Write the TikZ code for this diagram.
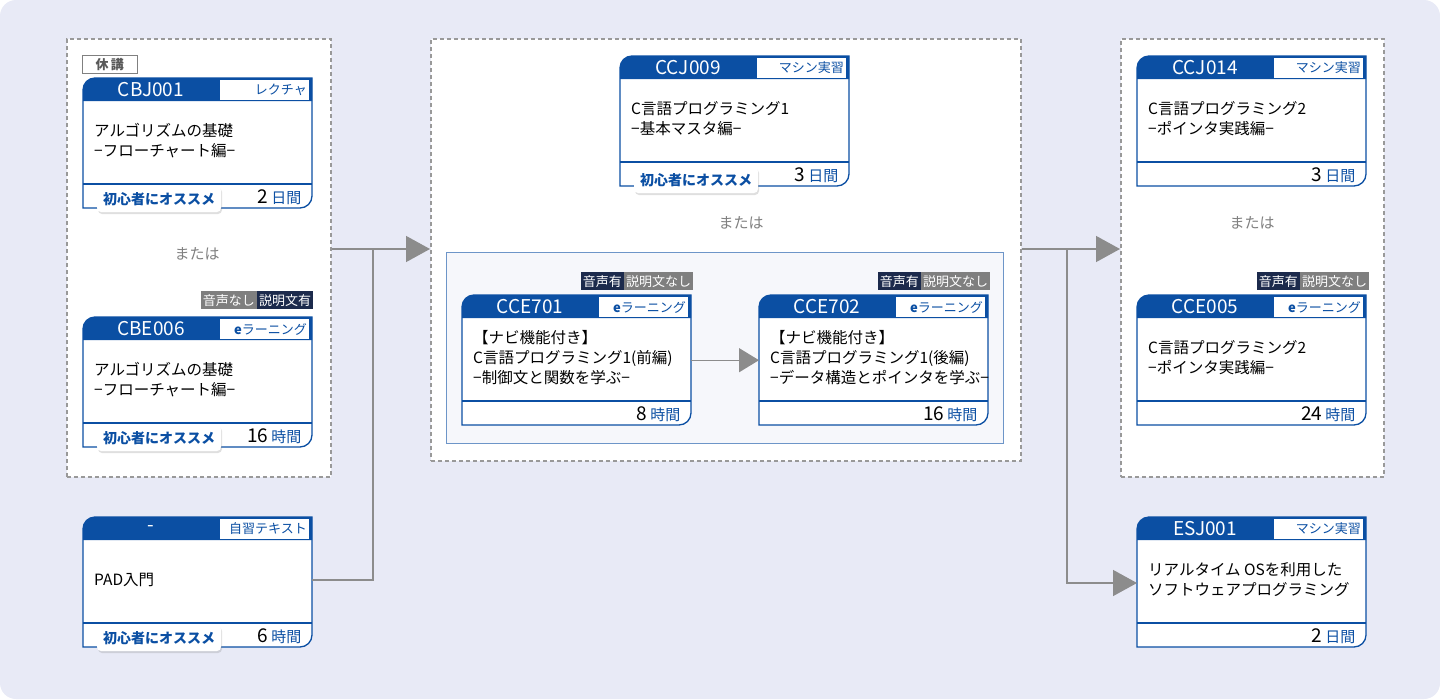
\documentclass[tikz,border=0pt]{standalone}
\usepackage{fontspec}
\setmainfont{Noto Sans CJK JP}
\usetikzlibrary{arrows.meta,positioning,shadows}
\definecolor{hdrblue}{HTML}{0B4FA3}
\definecolor{bgpanel}{HTML}{E8EAF6}
\definecolor{tagnavy}{HTML}{1C2A4C}
\definecolor{taggray}{HTML}{7F7F7F}
\definecolor{flowgray}{HTML}{8C8C8C}
\tikzset{
  grp/.style={draw=gray!80, dash pattern=on 4pt off 3pt, line width=1.6pt, fill=white, rectangle, anchor=north west, inner sep=0},
  flow/.style={draw=flowgray, line width=1.4pt, -{Triangle[length=24pt,width=26pt]}},
  cardline/.style={draw=hdrblue, line width=1.3pt, fill=white},
  typebox/.style={fill=white, text=hdrblue, font=\fontsize{13}{13}\selectfont, inner sep=0},
  tag/.style={text=white, font=\fontsize{13}{13}\selectfont, inner sep=2pt, minimum height=18pt},
  badge/.style={fill=white, rounded corners=4pt, drop shadow={opacity=.25,shadow xshift=1pt,shadow yshift=-2pt},
    text=hdrblue, font=\fontsize{14}{14}\selectfont\bfseries, minimum width=124pt, minimum height=26pt, inner sep=0},
  ortext/.style={text=gray, font=\fontsize{15}{15}\selectfont}
}
% \course{name}{x}{y}{code}{type}{body}{num}{unit}
\newcommand{\course}[8]{
  \begin{scope}[shift={(#2,#3)}]
    \path[cardline] (0,-130) -- (0,-12) arc[start angle=180,end angle=90,radius=12] -- (229,0) -- (229,-118)
      arc[start angle=0,end angle=-90,radius=12] -- cycle;
    \fill[hdrblue] (0,-23) -- (0,-12) arc[start angle=180,end angle=90,radius=12] -- (229,0) -- (229,-23) -- cycle;
    \fill[white] (137,-2) rectangle (226,-22);
    \node[text=white, font=\fontsize{19}{19}\selectfont] at (68,-11.5) {#4};
    \node[typebox, anchor=east] at (224,-12) {#5};
    \draw[hdrblue, line width=1.3pt] (0,-106) -- (229,-106);
    \node[anchor=west, align=left, font=\fontsize{15.5}{20}\selectfont, inner sep=0] at (11,-63) {#6};
    \node[anchor=east, font=\fontsize{19}{19}\selectfont] at (222,-119) {#7\,{\color{hdrblue}\fontsize{15}{15}\selectfont #8}};
    \node[inner sep=0, minimum width=229, minimum height=130, anchor=north west] (#1) at (0,0) {};
  \end{scope}
}
\begin{document}
\begin{tikzpicture}[x=1pt,y=1pt]
  \fill[bgpanel, rounded corners=16] (0,0) rectangle (1440,-699);
  \useasboundingbox (0,0) rectangle (1440,-699);

  % groups
  \node[grp, minimum width=264, minimum height=438] (left) at (66,-38) {};
  \node[grp, minimum width=590, minimum height=422] (middle) at (430,-38) {};
  \node[grp, minimum width=263, minimum height=438] (right) at (1120,-38) {};
  \node[draw=hdrblue!60, fill=bgpanel!40, line width=.8pt, minimum width=557, minimum height=191, anchor=north west, inner sep=0] (elearn) at (446,-252) {};

  % left column
  \node[draw=gray, fill=white, inner sep=0, minimum width=55, minimum height=18, anchor=north west,
    text=gray!70!black, font=\fontsize{13}{13}\selectfont\bfseries] (kyuko) at (82,-55) {休\,講};
  \course{cbj001}{83}{-78}{CBJ001}{レクチャ}{アルゴリズムの基礎\\ −フローチャート編−}{2}{日間}
  \node[badge] (b1) at (159,-199) {初心者にオススメ};

  \node[tag, fill=taggray, anchor=north east] (cbe006snd) at (257,-291) {音声なし};
  \node[tag, fill=tagnavy, anchor=north west] (cbe006txt) at (257,-291) {説明文有};
  \course{cbe006}{83}{-317}{CBE006}{\textbf{e}ラーニング}{アルゴリズムの基礎\\ −フローチャート編−}{16}{時間}
  \node[badge] (b2) at (159,-438) {初心者にオススメ};
  \node[ortext] (or1) at (197,-254) {または};

  \course{pad}{83}{-517}{-}{自習テキスト}{PAD入門}{6}{時間}
  \node[badge] (b3) at (159,-638) {初心者にオススメ};

  % middle column
  \course{ccj009}{620}{-56}{CCJ009}{マシン実習}{C言語プログラミング1\\ −基本マスタ編−}{3}{日間}
  \node[badge] (b4) at (696,-180) {初心者にオススメ};
  \node[ortext] (or2) at (741,-223) {または};

  \node[tag, fill=tagnavy, anchor=north east] (cce701snd) at (624,-272) {音声有};
  \node[tag, fill=taggray, anchor=north west] (cce701txt) at (624,-272) {説明文なし};
  \course{cce701}{462}{-295}{CCE701}{\textbf{e}ラーニング}{【ナビ機能付き】\\ C言語プログラミング1(前編)\\ −制御文と関数を学ぶ−}{8}{時間}

  \node[tag, fill=tagnavy, anchor=north east] (cce702snd) at (921,-272) {音声有};
  \node[tag, fill=taggray, anchor=north west] (cce702txt) at (921,-272) {説明文なし};
  \course{cce702}{759}{-295}{CCE702}{\textbf{e}ラーニング}{【ナビ機能付き】\\ C言語プログラミング1(後編)\\ −データ構造とポインタを学ぶ−}{16}{時間}

  % right column
  \course{ccj014}{1137}{-56}{CCJ014}{マシン実習}{C言語プログラミング2\\ −ポインタ実践編−}{3}{日間}
  \node[ortext] (or3) at (1252,-223) {または};
  \node[tag, fill=tagnavy, anchor=north east] (cce005snd) at (1300,-272) {音声有};
  \node[tag, fill=taggray, anchor=north west] (cce005txt) at (1300,-272) {説明文なし};
  \course{cce005}{1137}{-295}{CCE005}{\textbf{e}ラーニング}{C言語プログラミング2\\ −ポインタ実践編−}{24}{時間}
  \course{esj001}{1137}{-517}{ESJ001}{マシン実習}{リアルタイム OSを利用した\\ ソフトウェアプログラミング}{2}{日間}

  % flow
  \draw[flow] (left.east |- 0,-249) -- (middle.west |- 0,-249);
  \draw[draw=flowgray, line width=1.4pt] (pad.east |- 0,-580) -| (373,-249);
  \draw[flow, -{Triangle[length=20pt,width=24pt]}] (cce701) -- (cce702);
  \draw[flow] (middle.east |- 0,-249) -- (right.west |- 0,-249);
  \draw[flow] (1067,-249) |- (esj001.west |- 0,-583);
\end{tikzpicture}
\end{document}
